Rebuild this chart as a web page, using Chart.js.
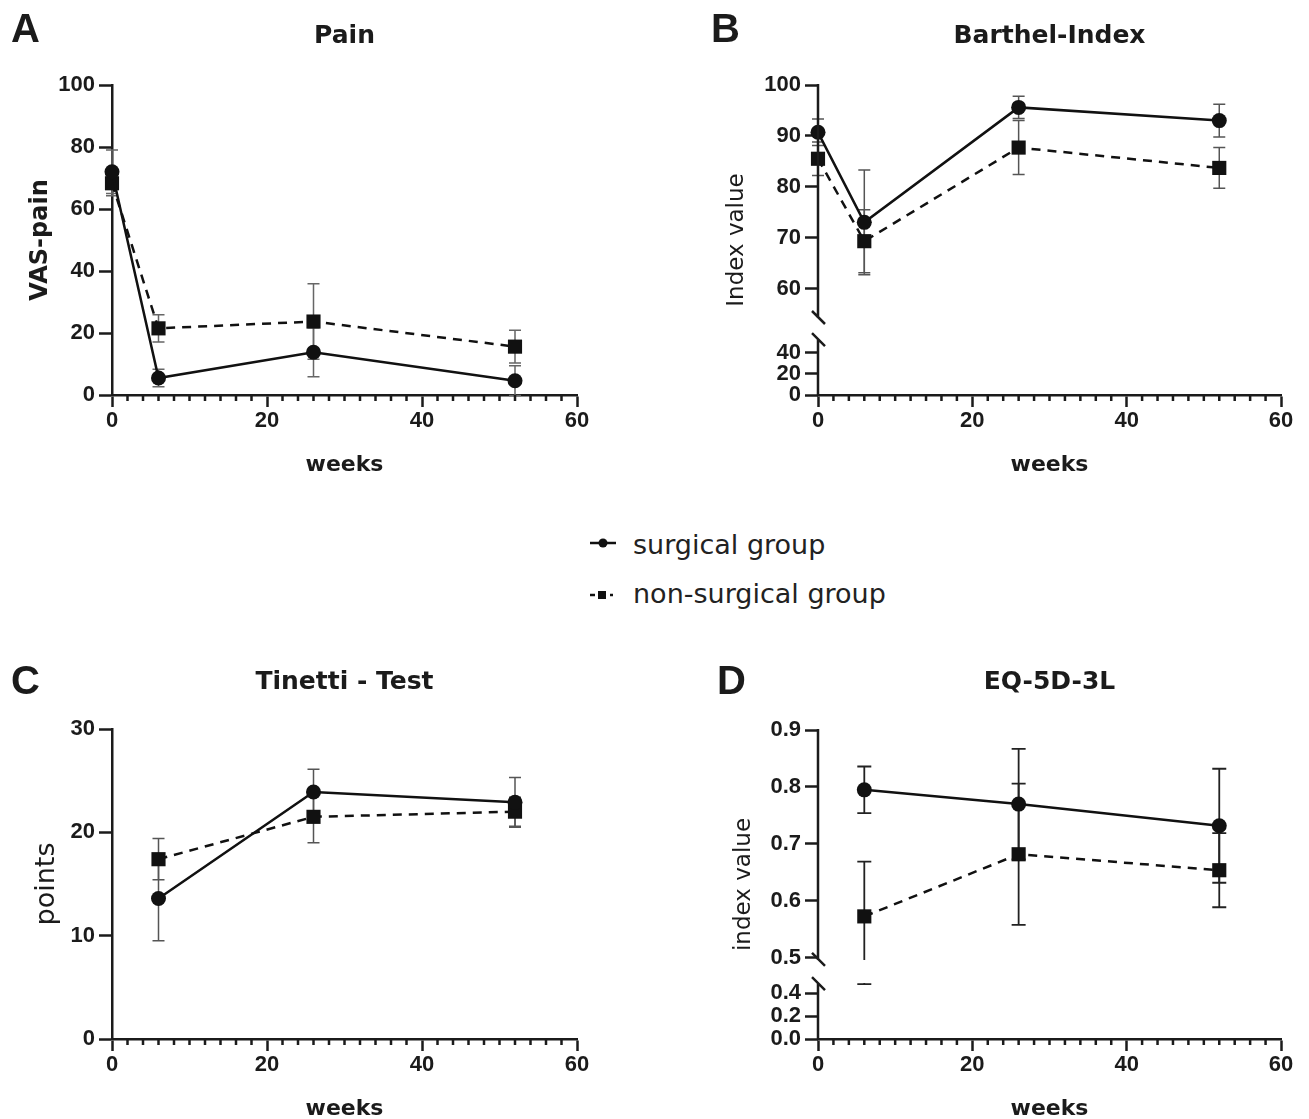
<!DOCTYPE html>
<html>
<head>
<meta charset="utf-8">
<script src="https://cdn.jsdelivr.net/npm/chart.js@4.4.1/dist/chart.umd.min.js"></script>
<style>
  html, body { margin: 0; padding: 0; background: #ffffff; width: 1309px; height: 1119px; overflow: hidden; }
  canvas { position: absolute; }
  .lg { position: absolute; font-family: "DejaVu Sans", sans-serif; font-size: 27px; color: #222; line-height: 40px; white-space: nowrap; }
  svg { position: absolute; }
</style>
</head>
<body>
<canvas id="cA" width="660" height="490" style="left:0px;top:0px"></canvas>
<canvas id="cB" width="649" height="490" style="left:660px;top:0px"></canvas>
<canvas id="cC" width="660" height="510" style="left:0px;top:620px"></canvas>
<canvas id="cD" width="649" height="510" style="left:660px;top:620px"></canvas>

<svg width="34" height="20" style="left:588px;top:533px">
  <line x1="2" y1="10" x2="28" y2="10" stroke="#111" stroke-width="2.5"/>
  <circle cx="15" cy="10" r="4.5" fill="#111"/>
</svg>
<div class="lg" style="left:633px;top:525px">surgical group</div>
<svg width="34" height="20" style="left:588px;top:585px">
  <line x1="2" y1="10" x2="7" y2="10" stroke="#111" stroke-width="2.5"/>
  <rect x="10" y="6" width="8" height="8" fill="#111"/>
  <line x1="22" y1="10" x2="25" y2="10" stroke="#111" stroke-width="2.5"/>
</svg>
<div class="lg" style="left:633px;top:574px">non-surgical group</div>

<script>
// ---------------- data ----------------
const weeksAll = [0, 6, 26, 52];
const weeksLate = [6, 26, 52];

const painSurgical = [72.0, 5.5, 13.8, 4.6];
const painSurgicalSD = [7.0, 2.8, 7.9, 4.8];
const painNonSurgical = [68.3, 21.5, 23.7, 15.6];
const painNonSurgicalSD = [4.0, 4.4, 12.2, 5.3];

const barthelSurgical = [90.7, 73.0, 95.6, 93.0];
const barthelSurgicalSD = [2.6, 10.3, 2.2, 3.2];
const barthelNonSurgical = [85.5, 69.3, 87.7, 83.7];
const barthelNonSurgicalSD = [3.3, 6.2, 5.3, 4.0];

const tinettiSurgical = [13.6, 23.9, 22.9];
const tinettiSurgicalSD = [4.1, 2.2, 2.4];
const tinettiNonSurgical = [17.4, 21.5, 22.0];
const tinettiNonSurgicalSD = [2.0, 2.5, 1.4];

const eqSurgical = [0.795, 0.770, 0.732];
const eqSurgicalSD = [0.041, 0.097, 0.100];
const eqNonSurgical = [0.573, 0.682, 0.654];
const eqNonSurgicalSD = [0.096, 0.124, 0.065];

const xTicks = [0, 20, 40, 60];
const yTicksA = [0, 20, 40, 60, 80, 100];
const yTicksB = [0, 20, 40, 60, 70, 80, 90, 100];
const yTicksC = [0, 10, 20, 30];
const yTicksD = [0, 0.2, 0.4, 0.5, 0.6, 0.7, 0.8, 0.9];

const seriesNames = ['surgical group', 'non-surgical group'];

// ---------------- axis breaks (layout) ----------------
const BREAKS = {
  cB: { lowMax: 52.9, upMin: 54.2, lowFrac: 0.1806, upFrac: 0.2484 },
  cD: { lowMax: 0.487, upMin: 0.4965, lowFrac: 0.1812, upFrac: 0.2557 }
};

const PANELS = {
  cA: { title: 'Pain', letter: 'A', letterX: 11, letterY: 42, titleY: 43 },
  cB: { title: 'Barthel-Index', letter: 'B', letterX: 51, letterY: 42, titleY: 43 },
  cC: { title: 'Tinetti - Test', letter: 'C', letterX: 11, letterY: 74, titleY: 69 },
  cD: { title: 'EQ-5D-3L', letter: 'D', letterX: 57, letterY: 74, titleY: 69 }
};

const BaseLinear = Chart.LinearScale || Chart.registry.getScale('linear');
class BrokenLinearScale extends BaseLinear {
  _brk() { return BREAKS[this.chart.canvas.id]; }
  _dec(v) {
    const b = this._brk();
    const min = this.min, max = this.max;
    if (v <= b.lowMax) return (v - min) / (b.lowMax - min) * b.lowFrac;
    if (v >= b.upMin) return b.upFrac + (v - b.upMin) / (max - b.upMin) * (1 - b.upFrac);
    return b.lowFrac + (v - b.lowMax) / (b.upMin - b.lowMax) * (b.upFrac - b.lowFrac);
  }
  getPixelForValue(value) {
    if (value === null || value === undefined || isNaN(value)) return NaN;
    return this.getPixelForDecimal(this._dec(value));
  }
  getValueForPixel(pixel) {
    const d = this.getDecimalForPixel(pixel);
    const b = this._brk();
    if (d <= b.lowFrac) return this.min + d / b.lowFrac * (b.lowMax - this.min);
    if (d >= b.upFrac) return b.upMin + (d - b.upFrac) / (1 - b.upFrac) * (this.max - b.upMin);
    return b.lowMax + (d - b.lowFrac) / (b.upFrac - b.lowFrac) * (b.upMin - b.lowMax);
  }
}
BrokenLinearScale.id = 'brokenLinear';
BrokenLinearScale.defaults = BaseLinear.defaults;
Chart.register(BrokenLinearScale);

const INK = '#1b1b1b';

const errorBarPlugin = {
  id: 'errorBars',
  beforeDatasetsDraw(chart) {
    const { ctx, scales: { x, y } } = chart;
    const b = BREAKS[chart.canvas.id];
    ctx.save();
    if (b) {
      const yUp = y.getPixelForValue(b.upMin);
      const yLow = y.getPixelForValue(b.lowMax);
      ctx.beginPath();
      ctx.rect(0, 0, chart.width, yUp);
      ctx.rect(0, yLow, chart.width, chart.height - yLow);
      ctx.clip();
    }
    chart.data.datasets.forEach((ds) => {
      ctx.strokeStyle = ds.errColor;
      ctx.lineWidth = ds.errWidth;
      const cap = ds.errCap;
      ds.data.forEach((pt, i) => {
        const e = ds.errors[i];
        const px = x.getPixelForValue(pt.x);
        const top = y.getPixelForValue(pt.y + e);
        const bot = y.getPixelForValue(pt.y - e);
        ctx.beginPath();
        ctx.moveTo(px, top); ctx.lineTo(px, bot);
        ctx.moveTo(px - cap, top); ctx.lineTo(px + cap, top);
        ctx.moveTo(px - cap, bot); ctx.lineTo(px + cap, bot);
        ctx.stroke();
      });
    });
    ctx.restore();
  }
};

const decorPlugin = {
  id: 'decor',
  afterDraw(chart) {
    const P = PANELS[chart.canvas.id];
    const { ctx, chartArea: ca, scales: { x, y } } = chart;
    ctx.save();
    ctx.strokeStyle = INK;
    ctx.lineWidth = 2.5;
    ctx.beginPath();
    for (let v = 0; v <= 60; v += 2) {
      if (v % 20 === 0) continue;
      const px = x.getPixelForValue(v);
      ctx.moveTo(px, ca.bottom);
      ctx.lineTo(px, ca.bottom + 6);
    }
    ctx.stroke();
    const b = BREAKS[chart.canvas.id];
    if (b) {
      const yUp = y.getPixelForValue(b.upMin);
      const yLow = y.getPixelForValue(b.lowMax);
      const ax = ca.left;
      ctx.beginPath();
      ctx.moveTo(ax, ca.top - 1); ctx.lineTo(ax, yUp);
      ctx.moveTo(ax, yLow); ctx.lineTo(ax, ca.bottom + 1);
      ctx.moveTo(ax - 6, yUp - 7); ctx.lineTo(ax + 7, yUp + 6);
      ctx.moveTo(ax - 6, yLow - 6); ctx.lineTo(ax + 7, yLow + 7);
      ctx.stroke();
    }
    ctx.fillStyle = INK;
    ctx.textBaseline = 'alphabetic';
    ctx.textAlign = 'center';
    ctx.font = 'bold 25px "DejaVu Sans"';
    ctx.fillText(P.title, (ca.left + ca.right) / 2, P.titleY);
    ctx.textAlign = 'left';
    ctx.font = 'bold 40px "Liberation Sans"';
    ctx.fillText(P.letter, P.letterX, P.letterY);
    ctx.restore();
  }
};

function mkDs(label, xs, ys, sds, dashed, err) {
  return {
    label: label,
    data: xs.map((xv, i) => ({ x: xv, y: ys[i] })),
    errors: sds,
    errColor: err.color, errWidth: err.width, errCap: err.cap,
    borderColor: '#111', backgroundColor: '#111',
    borderWidth: 2.5,
    borderDash: dashed ? [9, 7] : [],
    pointStyle: dashed ? 'rect' : 'circle',
    pointRadius: dashed ? 10 : 7.5,
    pointBorderWidth: 0,
    pointBackgroundColor: '#111',
    tension: 0,
    clip: false
  };
}

const tickFont = { family: '"Liberation Sans"', weight: 'bold', size: 22 };

function makePanel(id, cfg) {
  const broken = !!BREAKS[id];
  return new Chart(document.getElementById(id), {
    type: 'line',
    data: {
      datasets: [
        mkDs(seriesNames[0], cfg.xs, cfg.s, cfg.sSD, false, cfg.err),
        mkDs(seriesNames[1], cfg.xs, cfg.n, cfg.nSD, true, cfg.err)
      ]
    },
    options: {
      responsive: false,
      animation: false,
      devicePixelRatio: 1,
      events: [],
      layout: { padding: cfg.padding },
      plugins: { legend: { display: false }, tooltip: { enabled: false }, title: { display: false } },
      scales: {
        x: {
          type: 'linear', min: 0, max: 60,
          afterBuildTicks: (s) => { s.ticks = xTicks.map(v => ({ value: v })); },
          afterFit: (s) => { s.height = cfg.xH; },
          grid: { drawOnChartArea: false, drawTicks: true, tickLength: 12, tickWidth: 2.5, tickColor: INK },
          border: { display: true, width: 2.5, color: INK },
          ticks: { font: tickFont, color: INK, padding: 1, maxRotation: 0, autoSkip: false, callback: v => String(v) },
          title: { display: true, text: 'weeks', color: INK,
                   font: { family: '"DejaVu Sans"', weight: 'bold', size: 22 },
                   padding: { top: 0, bottom: cfg.xTitlePad } }
        },
        y: {
          type: broken ? 'brokenLinear' : 'linear', min: cfg.yMin, max: cfg.yMax,
          afterBuildTicks: (s) => { s.ticks = cfg.yTicks.map(v => ({ value: v })); },
          afterFit: (s) => { s.width = cfg.yW; },
          grid: { drawOnChartArea: false, drawTicks: true, tickLength: 13, tickWidth: 2.5, tickColor: INK },
          border: { display: !broken, width: 2.5, color: INK },
          ticks: { font: tickFont, color: INK, padding: 4, autoSkip: false, callback: cfg.fmt },
          title: { display: true, text: cfg.yTitle, color: INK,
                   font: { family: '"DejaVu Sans"', weight: cfg.yTitleBold ? 'bold' : 'normal', size: cfg.yTitleSize },
                   padding: { top: cfg.yTitlePad, bottom: 0 } }
        }
      }
    },
    plugins: [errorBarPlugin, decorPlugin]
  });
}

const intFmt = v => String(v);
const decFmt = v => Number(v).toFixed(1);

makePanel('cA', {
  xs: weeksAll, s: painSurgical, sSD: painSurgicalSD, n: painNonSurgical, nSD: painNonSurgicalSD,
  err: { color: '#666', width: 1.5, cap: 6 },
  padding: { left: 0, top: 85, right: 83, bottom: 0 }, xH: 95, yW: 112, xTitlePad: 12,
  yMin: 0, yMax: 100, yTicks: yTicksA, fmt: intFmt,
  yTitle: 'VAS-pain', yTitleBold: true, yTitleSize: 24, yTitlePad: 26
});
makePanel('cB', {
  xs: weeksAll, s: barthelSurgical, sSD: barthelSurgicalSD, n: barthelNonSurgical, nSD: barthelNonSurgicalSD,
  err: { color: '#555', width: 1.5, cap: 6 },
  padding: { left: 0, top: 85, right: 28, bottom: 0 }, xH: 95, yW: 158, xTitlePad: 12,
  yMin: 0, yMax: 100, yTicks: yTicksB, fmt: intFmt,
  yTitle: 'Index value', yTitleBold: false, yTitleSize: 23, yTitlePad: 63
});
makePanel('cC', {
  xs: weeksLate, s: tinettiSurgical, sSD: tinettiSurgicalSD, n: tinettiNonSurgical, nSD: tinettiNonSurgicalSD,
  err: { color: '#555', width: 1.5, cap: 6 },
  padding: { left: 0, top: 109, right: 83, bottom: 0 }, xH: 91, yW: 112, xTitlePad: 8,
  yMin: 0, yMax: 30, yTicks: yTicksC, fmt: intFmt,
  yTitle: 'points', yTitleBold: false, yTitleSize: 27, yTitlePad: 31
});
makePanel('cD', {
  xs: weeksLate, s: eqSurgical, sSD: eqSurgicalSD, n: eqNonSurgical, nSD: eqNonSurgicalSD,
  err: { color: '#222', width: 1.8, cap: 7 },
  padding: { left: 0, top: 110, right: 28, bottom: 0 }, xH: 91, yW: 158, xTitlePad: 8,
  yMin: 0, yMax: 0.9, yTicks: yTicksD, fmt: decFmt,
  yTitle: 'index value', yTitleBold: false, yTitleSize: 23, yTitlePad: 70
});
</script>
</body>
</html>
